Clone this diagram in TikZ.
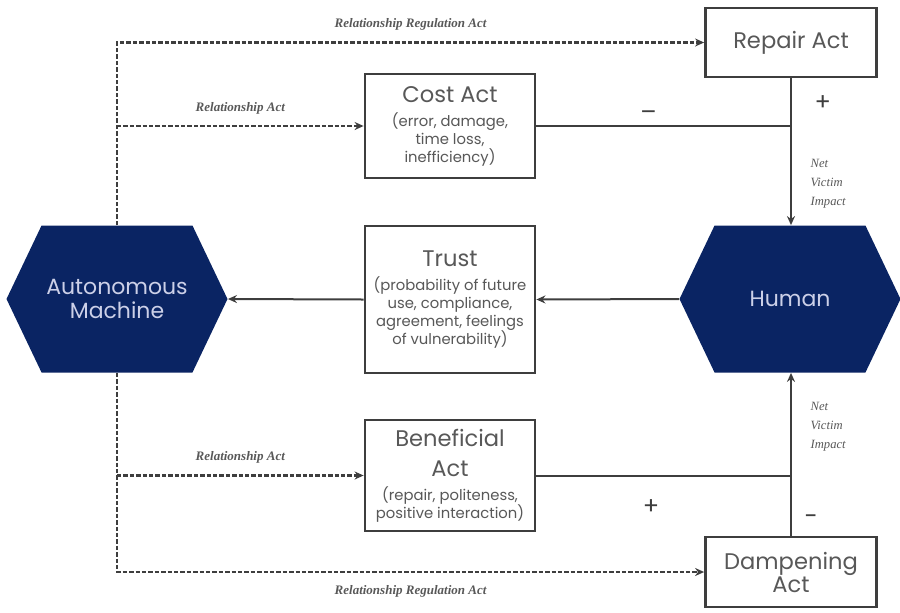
\documentclass[tikz,border=0pt]{standalone}
\usepackage{fontspec}
\setmainfont{Poppins}
\newfontfamily\serifit{Liberation Serif}
\usetikzlibrary{arrows.meta,shapes.symbols}

\definecolor{navy}{RGB}{10,36,99}
\definecolor{ink}{RGB}{62,62,62}
\definecolor{softtext}{RGB}{88,88,88}
\definecolor{paletext}{RGB}{204,208,232}

\tikzset{
  actbox/.style={draw=ink, line width=1.4pt, fill=white, align=center, text=softtext,
    inner sep=0pt, font=\fontsize{7.4}{9}\selectfont},
  agent/.style={signal, signal to=east and west, signal pointer angle=129, fill=navy,
    draw=none, text=paletext, align=center, font=\fontsize{11}{12}\selectfont,
    minimum width=110.5pt, minimum height=73.5pt, inner sep=0pt},
  rel/.style={line width=1.1pt, draw=ink, dash pattern=on 2.2pt off 1pt},
  link/.style={draw=ink, line width=1pt},
  tag/.style={font=\serifit\itshape\bfseries\fontsize{6.5}{7}\selectfont, text=softtext},
  impact/.style={font=\serifit\itshape\fontsize{6.3}{9.5}\selectfont, align=left, text=softtext},
  sign/.style={font=\fontsize{12}{12}\selectfont, text=ink}
}
\newcommand{\acttitle}{\fontsize{11.3}{11.5}\selectfont}

\begin{document}
\begin{tikzpicture}[x=0.5pt, y=-0.5pt, >={Stealth[length=4.5pt,width=4pt]}]
  \useasboundingbox (0,0) rectangle (900,612);

  % the two agents
  \node[agent] (machine) at (117,299) {Autonomous\\Machine};
  \node[agent] (human) at (790,299) {Human};

  % acts
  \node[actbox, minimum width=85.5pt, minimum height=34.5pt, font=\acttitle] (repair) at (791,42.5) {Repair Act};
  \node[actbox, minimum width=85pt, minimum height=52pt] (cost) at (450,126)
    {{\acttitle Cost Act}\\[3pt] (error, damage,\\ time loss,\\ inefficiency)};
  \node[actbox, minimum width=85pt, minimum height=73.5pt] (trust) at (450,299.5)
    {{\acttitle Trust}\\[3pt] (probability of future\\ use, compliance,\\ agreement, feelings\\ of vulnerability)};
  \node[actbox, minimum width=85pt, minimum height=55.5pt] (benefit) at (450,475.5)
    {{\acttitle Beneficial}\\[6pt] {\acttitle Act}\\[3pt] (repair, politeness,\\ positive interaction)};
  \node[actbox, minimum width=85.5pt, minimum height=35pt, font=\acttitle] (damp) at (791,572) {Dampening\\Act};

  % relationship acts from the machine
  \draw[rel,->] (machine.north) |- (repair.west) node[tag, pos=0.75, above=2pt] {Relationship Regulation Act};
  \draw[rel,->] (machine.north |- cost.west) -- node[tag, above=2pt] {Relationship Act} (cost.west);
  \draw[rel,->] (machine.south |- benefit.west) -- node[tag, above=2pt] {Relationship Act} (benefit.west);
  \draw[rel,->] (machine.south) |- (damp.west) node[tag, pos=0.75, below=3pt] {Relationship Regulation Act};

  % net victim impact on the human
  \draw[link] (cost.east) -- node[sign, pos=0.44, above=-1pt] {\textendash} (cost.east -| repair.south);
  \draw[link,->] (repair.south) -- node[sign, pos=0.17, right=8pt] {+}
    node[impact, pos=0.72, right=6pt] {Net\\Victim\\Impact} (human.north -| repair.south);
  \draw[link] (benefit.east) -- node[sign, pos=0.45, below=8pt] {+} (benefit.east -| damp.north);
  \draw[link,->] (damp.north) -- node[sign, pos=0.1, right=3pt] {-}
    node[impact, pos=0.67, right=6pt] {Net\\Victim\\Impact} (human.south -| damp.north);

  % trust back to the machine
  \draw[link,->] (human.west) -- (trust.east);
  \draw[link,->] (trust.west) -- (machine.east);
\end{tikzpicture}
\end{document}
